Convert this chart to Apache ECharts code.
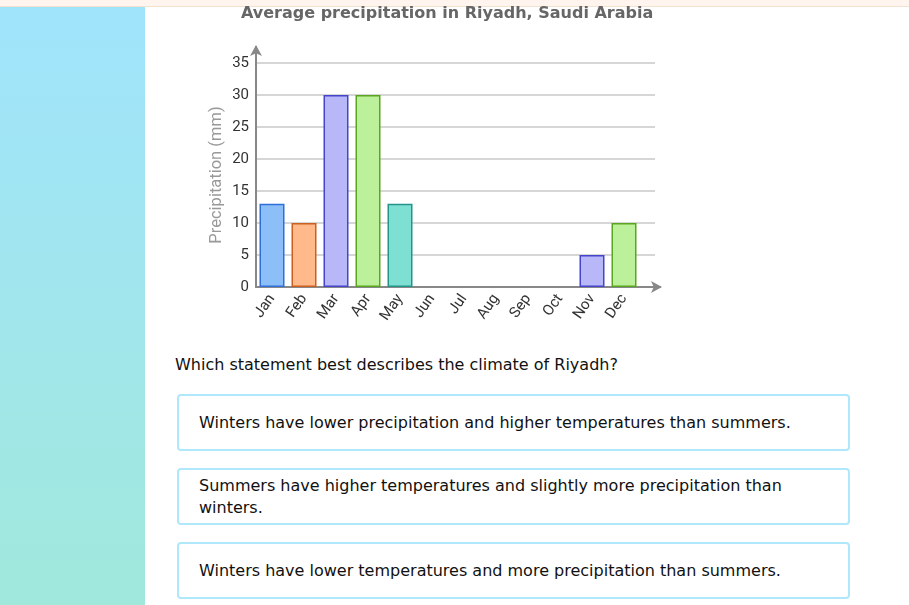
<!DOCTYPE html>
<html>
<head>
<meta charset="utf-8">
<script src="https://cdn.jsdelivr.net/npm/echarts@6/dist/echarts.min.js"></script>
<style>
  html, body { margin: 0; padding: 0; width: 909px; height: 605px; overflow: hidden; background: #fff; font-family: "DejaVu Sans", Verdana, sans-serif; }
  #topbar { position: absolute; left: 0; top: 0; width: 909px; height: 6px; background: #fff5ee; border-bottom: 1px solid #f0e2cf; }
  #side { position: absolute; left: 0; top: 7px; width: 145px; height: 598px; background: linear-gradient(to bottom, #a0e4fc, #a0e8dc); }
  #chart { position: absolute; left: 0; top: 0; width: 909px; height: 345px; }
  #question { position: absolute; left: 175px; top: 355px; font-size: 16px; color: #111; line-height: 20px; }
  .opt { position: absolute; left: 177px; width: 649px; height: 53px; border: 2px solid #b0e8fb; border-radius: 4px; box-sizing: content-box; display: flex; align-items: center; padding-left: 20px; font-size: 16px; color: #111; line-height: 22px; }
</style>
</head>
<body>
<div id="topbar"></div>
<div id="side"></div>
<div id="chart"></div>
<div id="question">Which statement best describes the climate of Riyadh?</div>
<div class="opt" style="top:394px;">Winters have lower precipitation and higher temperatures than summers.</div>
<div class="opt" style="top:468px;"><span>Summers have higher temperatures and slightly more precipitation than<br>winters.</span></div>
<div class="opt" style="top:542px;">Winters have lower temperatures and more precipitation than summers.</div>
<script>
const months = ["Jan","Feb","Mar","Apr","May","Jun","Jul","Aug","Sep","Oct","Nov","Dec"];
const precipitation = [13, 10, 30, 30, 13, 0, 0, 0, 0, 0, 5, 10];
const fillColors = ["#8cbff8","#ffb98a","#b8b8f8","#bdf09a","#7edfd3","#8cbff8","#ffb98a","#b8b8f8","#bdf09a","#7edfd3","#b8b8f8","#bdf09a"];
const borderColors = ["#2f6fd8","#cc6020","#4444cc","#5aa51e","#23948a","#2f6fd8","#cc6020","#4444cc","#5aa51e","#23948a","#4444cc","#5aa51e"];
const yTicks = [0, 5, 10, 15, 20, 25, 30, 35];
const titleText = "Average precipitation in Riyadh, Saudi Arabia";
const yName = "Precipitation (mm)";

const chart = echarts.init(document.getElementById('chart'), null, {renderer: 'canvas'});
const axisFont = 'Roboto';
chart.setOption({
  animation: false,
  backgroundColor: 'transparent',
  title: {
    text: titleText, left: 241, top: 6, padding: 0,
    textStyle: { fontFamily: 'DejaVu Sans', fontWeight: 'bold', fontSize: 16, color: '#666' }
  },
  grid: [
    { left: 256, top: 63, width: 399, height: 224 },
    { left: 256, top: 63, width: 384, height: 224 },
    { left: 256, top: 47, width: 404, height: 240 }
  ],
  xAxis: [
    { gridIndex: 0, type: 'value', show: false, min: 0, max: 1 },
    { gridIndex: 1, type: 'category', data: months, boundaryGap: true,
      axisLine: { show: false }, axisTick: { show: false },
      axisLabel: { rotate: 55, interval: 0, margin: 9, fontFamily: axisFont, fontSize: 15, color: '#333' } },
    { gridIndex: 2, type: 'value', min: 0, max: 1, splitLine: { show: false }, axisTick: { show: false }, axisLabel: { show: false },
      axisLine: { show: true, symbol: ['none', 'arrow'], symbolSize: [9, 11], symbolOffset: [0, 2], lineStyle: { color: '#888', width: 2 } } }
  ],
  yAxis: [
    { gridIndex: 0, type: 'value', min: 0, max: 35, interval: 5,
      name: yName, nameLocation: 'middle', nameGap: 31,
      nameTextStyle: { fontFamily: axisFont, fontSize: 16.5, color: '#999' },
      axisLine: { show: false }, axisTick: { show: false },
      axisLabel: { margin: 7, fontFamily: axisFont, fontSize: 15, color: '#333',
        formatter: v => yTicks.indexOf(v) >= 0 ? String(v) : '' },
      splitLine: { show: true, lineStyle: { color: '#d6d6d6', width: 2 } } },
    { gridIndex: 1, type: 'value', min: 0, max: 35, show: false },
    { gridIndex: 2, type: 'value', min: 0, max: 1, splitLine: { show: false }, axisTick: { show: false }, axisLabel: { show: false },
      axisLine: { show: true, symbol: ['none', 'arrow'], symbolSize: [9, 11], symbolOffset: [0, 2], lineStyle: { color: '#888', width: 2 } } }
  ],
  series: [{
    type: 'bar', xAxisIndex: 1, yAxisIndex: 1,
    barWidth: 25,
    data: precipitation.map((v, i) => ({
      value: v,
      itemStyle: { color: fillColors[i], borderColor: borderColors[i], borderWidth: v === 0 ? 0 : 1.5 }
    })),
    z: 3
  }]
});
</script>
</body>
</html>
